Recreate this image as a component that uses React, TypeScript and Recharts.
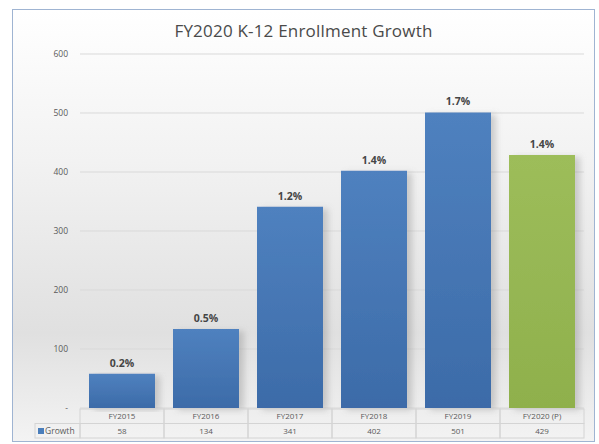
import { Bar, BarChart, CartesianGrid, Cell, LabelList, XAxis, YAxis } from 'recharts';

const years = ['FY2015', 'FY2016', 'FY2017', 'FY2018', 'FY2019', 'FY2020 (P)'];
const growth = [58, 134, 341, 402, 501, 429];
const growthPct = ['0.2%', '0.5%', '1.2%', '1.4%', '1.7%', '1.4%'];
const yTicks = [0, 100, 200, 300, 400, 500, 600];

const W = 599;
const H = 444;
const PLOT_LEFT = 80;
const PLOT_RIGHT = 584;
const PLOT_TOP = 54;
const PLOT_BOTTOM = 408;
const BAND = (PLOT_RIGHT - PLOT_LEFT) / years.length;
const ROW_H = 14.5;

const data = years.map((y, i) => ({ year: y, growth: growth[i], pct: growthPct[i] }));

const LINE = '#d4d4d4';
const TXT = '#5a5a5a';

interface TickProps {
  x?: number;
  y?: number;
  index?: number;
  payload?: { value: string; index: number };
}

function TableTick({ x = 0, index = 0, payload }: TickProps) {
  const top = PLOT_BOTTOM + 1;
  const left = x - BAND / 2;
  const i = payload?.index ?? index;
  return (
    <g>
      <rect x={left} y={top} width={BAND} height={ROW_H} fill="none" stroke={LINE} />
      <rect x={left} y={top + ROW_H} width={BAND} height={ROW_H} fill="none" stroke={LINE} />
      <text x={x} y={top + ROW_H / 2 + 3} textAnchor="middle" fontSize={8} fill={TXT}>
        {payload?.value}
      </text>
      <text x={x} y={top + ROW_H * 1.5 + 3.5} textAnchor="middle" fontSize={8} fill={TXT}>
        {growth[i]}
      </text>
      {i === 0 && (
        <g>
          <rect x={left - 45} y={top + ROW_H} width={45} height={ROW_H} fill="none" stroke={LINE} />
          <rect x={left - 42} y={top + ROW_H + 4.5} width={6} height={6} fill="#4a7ebb" />
          <text x={left - 35} y={top + ROW_H * 1.5 + 3.5} fontSize={8.5} fill={TXT}>
            Growth
          </text>
        </g>
      )}
    </g>
  );
}

export default function App() {
  return (
    <div style={{ position: 'absolute', left: 0, top: 0, width: W, height: H, background: '#fff' }}>
      <div
        style={{
          position: 'absolute',
          left: 12,
          top: 9,
          width: 581,
          height: 431,
          border: '1px solid #9fb4d2',
          background: 'linear-gradient(180deg, #ffffff 0%, #f2f2f2 35%, #e0e0e0 75%, #f3f3f3 100%)',
        }}
      />
      <div
        style={{
          position: 'absolute',
          left: 4,
          top: 19,
          width: W,
          textAlign: 'center',
          fontFamily: '"Open Sans", sans-serif',
          fontSize: 17,
          letterSpacing: 0.2,
          color: '#4a4a4a',
        }}
      >
        FY2020 K-12 Enrollment Growth
      </div>
      <div style={{ position: 'absolute', left: 0, top: 0 }}>
        <BarChart
          width={W}
          height={H}
          data={data}
          barCategoryGap={0}
          margin={{ top: PLOT_TOP, right: W - PLOT_RIGHT, bottom: 0, left: PLOT_LEFT - 40 }}
          style={{ fontFamily: '"Open Sans", sans-serif' }}
        >
          <defs>
            <linearGradient id="blueFill" x1="0" y1="0" x2="0" y2="1">
              <stop offset="0%" stopColor="#4f81bf" />
              <stop offset="100%" stopColor="#3c6ba8" />
            </linearGradient>
            <linearGradient id="greenFill" x1="0" y1="0" x2="0" y2="1">
              <stop offset="0%" stopColor="#9dbd5a" />
              <stop offset="100%" stopColor="#8fb04c" />
            </linearGradient>
            <filter id="barShadow" x="-20%" y="-5%" width="150%" height="115%">
              <feDropShadow dx="5" dy="2" stdDeviation="3" floodColor="#808080" floodOpacity="0.35" />
            </filter>
          </defs>
          <CartesianGrid vertical={false} stroke="#d9d9d9" />
          <XAxis
            dataKey="year"
            height={H - PLOT_BOTTOM}
            axisLine={false}
            tickLine={false}
            interval={0}
            tick={<TableTick />}
          />
          <YAxis
            width={40}
            domain={[0, 600]}
            ticks={yTicks}
            axisLine={false}
            tickLine={false}
            tickMargin={6}
            tick={{ fontSize: 8.5, fill: TXT }}
            tickFormatter={(v: number) => (v === 0 ? '-' : String(v))}
          />
          <Bar dataKey="growth" barSize={66} isAnimationActive={false} style={{ filter: 'url(#barShadow)' }}>
            {data.map((d, i) => (
              <Cell key={d.year} fill={i === data.length - 1 ? 'url(#greenFill)' : 'url(#blueFill)'} />
            ))}
            <LabelList dataKey="pct" position="top" offset={7} fontSize={10.5} fontWeight="bold" fill="#454545" />
          </Bar>
        </BarChart>
      </div>
    </div>
  );
}
